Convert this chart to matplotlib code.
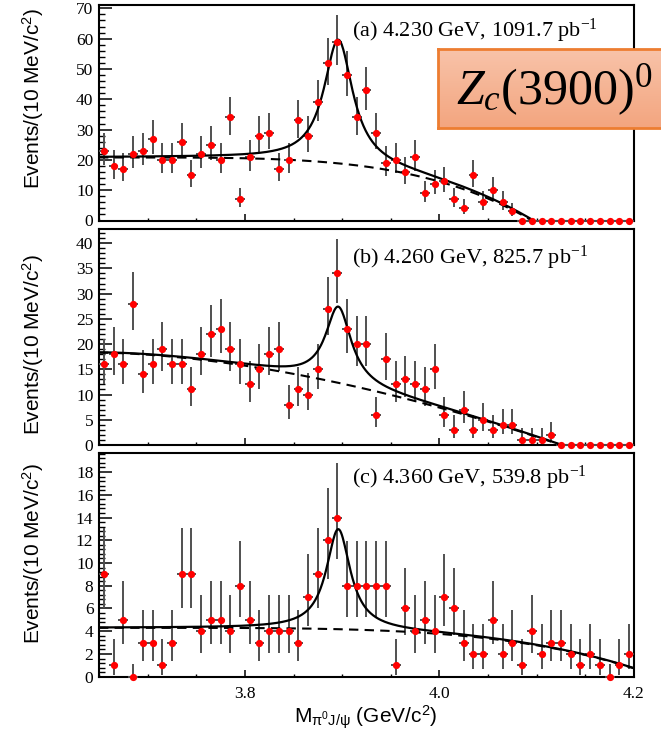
import numpy as np
import matplotlib
matplotlib.use("Agg")
import matplotlib.pyplot as plt
from matplotlib.ticker import MultipleLocator, FormatStrFormatter
from matplotlib.colors import LinearSegmentedColormap

plt.rcParams['font.family'] = ['Liberation Serif', 'DejaVu Serif']
plt.rcParams['mathtext.fontset'] = 'custom'
plt.rcParams['mathtext.rm'] = 'Liberation Serif'
plt.rcParams['mathtext.it'] = 'Liberation Serif:italic'
plt.rcParams['mathtext.bf'] = 'Liberation Serif:bold'
plt.rcParams['mathtext.sf'] = 'Liberation Sans'

# ---- histogram binning: 10 MeV bins from 3.65 to 4.20 GeV ----
mass_lo = 3.65
mass_hi = 4.20
bin_width = 0.01
n_bins = 55
bin_centers = mass_lo + bin_width * (np.arange(n_bins) + 0.5)

# ---- event counts per bin ----
counts_a = [23, 18, 17, 22, 23, 27, 20, 20, 26, 15, 22, 25, 20, 34, 7, 21, 28, 29,
            17, 20, 33, 28, 39, 52, 59, 48, 34, 43, 29, 19, 20, 16, 21, 9, 12, 13,
            7, 4, 15, 6, 10, 6, 3, 0, 0, 0, 0, 0, 0, 0, 0, 0, 0, 0, 0]
counts_b = [16, 18, 16, 28, 14, 16, 19, 16, 16, 11, 18, 22, 23, 19, 16, 12, 15, 18,
            19, 8, 11, 10, 15, 27, 34, 23, 20, 20, 6, 17, 12, 13, 12, 11, 15, 6,
            3, 7, 3, 5, 3, 4, 4, 1, 1, 1, 2, 0, 0, 0, 0, 0, 0, 0, 0]
counts_c = [9, 1, 5, 0, 3, 3, 1, 3, 9, 9, 4, 5, 5, 4, 8, 5, 3, 4, 4, 4, 3, 7, 9, 12,
            14, 8, 8, 8, 8, 8, 1, 6, 4, 5, 4, 7, 6, 3, 2, 2, 5, 2, 3, 1, 4, 2, 3, 3,
            2, 1, 2, 1, 0, 1, 2]

# ---- per-energy-point information ----
panel_tags = ["(a)", "(b)", "(c)"]
ecm_values = [4.230, 4.260, 4.360]          # GeV
luminosities = [1091.7, 825.7, 539.8]        # pb^-1
m_pi0 = 0.135                                # GeV
y_max = [71.1, 42.8, 19.7]
y_major = [10, 5, 2]
y_minor = [2, 1, 0.4]
zero_bin_upper_err = [0.0, 0.0, 1.15]

# ---- fit results: Breit-Wigner signal + phase-space-like background ----
bkg_norm = [20.8, 18.3, 4.3]
bkg_power = [4.0, 1.7, 4.2]
sig_amp = [40.8, 15.1, 8.8]
sig_mass = [3.896, 3.896, 3.896]
sig_width = [0.036, 0.032, 0.030]


def background(m, norm, power, endpoint):
    t = (m - mass_lo) / (endpoint - mass_lo)
    return norm * np.clip(1.0 - np.clip(t, 0, None) ** power, 0, None)


def signal(m, amp, mass, width, endpoint):
    bw = amp / (1.0 + ((m - mass) / (width / 2.0)) ** 2)
    return np.where(m < endpoint, bw, 0.0)


def poisson_errors(n, zero_up):
    n = np.asarray(n, dtype=float)
    nn = np.maximum(n, 1.0)
    lo = n - n * (1 - 1 / (9 * nn) - 1 / (3 * np.sqrt(nn))) ** 3
    hi = (n + 1) * (1 - 1 / (9 * (n + 1)) + 1 / (3 * np.sqrt(n + 1))) ** 3 - n
    lo = np.where(n > 0, lo, 0.0)
    hi = np.where(n > 0, hi, zero_up)
    return lo, hi


W, H = 661, 741
fig = plt.figure(figsize=(W / 100, H / 100), dpi=100)

# panel frames in pixel units (top, bottom)
frames = [(5, 220.5), (229, 445), (452.7, 676.7)]
left_px, right_px = 99, 634
label_baselines = [37, 264.3, 483.3]
ylabel_centers = [98, 344, 553]

all_counts = [counts_a, counts_b, counts_c]

for i in range(3):
    top, bot = frames[i]
    ax = fig.add_axes([left_px / W, (H - bot) / H, (right_px - left_px) / W, (bot - top) / H])
    counts = np.asarray(all_counts[i], dtype=float)
    endpoint = ecm_values[i] - m_pi0

    lo, hi = poisson_errors(counts, zero_bin_upper_err[i])
    ax.errorbar(bin_centers, counts, yerr=[lo, hi], xerr=bin_width / 2, fmt='none',
                ecolor='#505050', elinewidth=1.4, capsize=0, zorder=3, clip_on=False)
    ax.plot(bin_centers, counts, 'o', color='#ff0000', ms=5.2, mec='none',
            zorder=5, clip_on=False)

    m = np.linspace(mass_lo, min(endpoint, mass_hi), 600)
    bkg = background(m, bkg_norm[i], bkg_power[i], endpoint)
    tot = bkg + signal(m, sig_amp[i], sig_mass[i], sig_width[i], endpoint)
    ax.plot(m, bkg, color='black', lw=1.5, ls=(0, (4.5, 3)), zorder=4)
    ax.plot(m, tot, color='black', lw=1.6, zorder=4)

    ax.set_xlim(mass_lo, mass_hi)
    ax.set_ylim(0, y_max[i])
    for side in ['top', 'right', 'left', 'bottom']:
        ax.spines[side].set_linewidth(1.5)
    ax.xaxis.set_major_locator(MultipleLocator(0.2))
    ax.xaxis.set_minor_locator(MultipleLocator(0.05))
    ax.xaxis.set_major_formatter(FormatStrFormatter('%.1f'))
    ax.yaxis.set_major_locator(MultipleLocator(y_major[i]))
    ax.yaxis.set_minor_locator(MultipleLocator(y_minor[i]))
    ax.tick_params(axis='y', which='major', direction='in', length=9.5, width=1.1,
                   labelsize=12.5, pad=4, right=False)
    ax.tick_params(axis='y', which='minor', direction='in', length=4.5, width=1.0, right=False)
    ax.tick_params(axis='x', which='major', direction='in', length=5, width=1.1,
                   labelsize=12.5, pad=7, top=False)
    ax.tick_params(axis='x', which='minor', direction='in', length=2.5, width=1.0, top=False)
    if i < 2:
        ax.tick_params(axis='x', labelbottom=False)

    fig.text(352 / W, (H - label_baselines[i]) / H,
             f"{panel_tags[i]} {ecm_values[i]:.3f} GeV, {luminosities[i]:.1f} pb$^{{-1}}$",
             fontsize=16, va='baseline', ha='left', family='Liberation Serif')
    fig.text(33 / W, (H - ylabel_centers[i]) / H, r"Events/(10 MeV/c$^{\mathsf{2}}$)",
             rotation=90, fontsize=15, va='center', ha='center', family='Liberation Sans')

fig.text(366 / W, (H - 717) / H, r"M$_{\mathsf{\pi^{0}J/\psi}}$ (GeV/c$^{\mathsf{2}}$)",
         fontsize=15, va='center', ha='center', family='Liberation Sans')

# highlighted state name box, running off the right edge
box_top, box_bot, box_left = 49.3, 127.7, 438
box_ax = fig.add_axes([box_left / W, (H - box_bot) / H, 0.4, (box_bot - box_top) / H])
grad = np.linspace(0, 1, 128)[:, None]
cmap = LinearSegmentedColormap.from_list('box', ['#F8C3A9', '#F3A57F'])
box_ax.imshow(grad, aspect='auto', cmap=cmap, extent=[0, 1, 0, 1], origin='upper')
box_ax.set_xticks([])
box_ax.set_yticks([])
for side in box_ax.spines.values():
    side.set_color('#ED7D31')
    side.set_linewidth(2.0)
box_ax.text(456 / W, (H - 104) / H, r"$Z_c(3900)^0$", transform=fig.transFigure,
            fontsize=36, va='baseline', ha='left', color='black')

fig.savefig('out.png', dpi=100)
